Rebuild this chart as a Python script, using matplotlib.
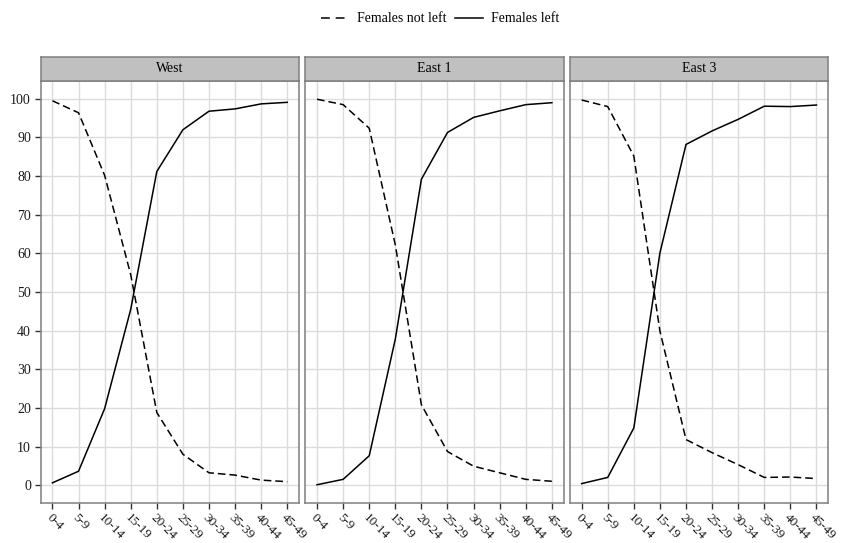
import matplotlib
matplotlib.use('Agg')
import matplotlib.pyplot as plt
from matplotlib.lines import Line2D

plt.rcParams['font.family'] = ['Liberation Serif', 'DejaVu Serif']

age_groups = ['0-4', '5-9', '10-14', '15-19', '20-24', '25-29', '30-34', '35-39', '40-44', '45-49']
regions = ['West', 'East 1', 'East 3']

# percent of females who have left the parental home, by age group
left_west = [0.6, 3.6, 19.8, 45.5, 81.2, 92.0, 96.8, 97.4, 98.7, 99.1]
left_east1 = [0.1, 1.5, 7.6, 37.8, 79.2, 91.3, 95.2, 96.9, 98.5, 99.0]
left_east3 = [0.4, 2.0, 14.8, 60.1, 88.2, 91.7, 94.7, 98.1, 98.0, 98.4]

not_left_west = [99.5, 96.4, 80.2, 54.5, 18.8, 8.0, 3.2, 2.6, 1.3, 0.9]
not_left_east1 = [99.9, 98.5, 92.4, 62.2, 20.8, 8.7, 4.9, 3.2, 1.5, 1.0]
not_left_east3 = [99.7, 98.0, 85.2, 39.9, 11.8, 8.4, 5.3, 2.0, 2.1, 1.7]

left_all = [left_west, left_east1, left_east3]
not_left_all = [not_left_west, not_left_east1, not_left_east3]

W, H = 846, 543
fig = plt.figure(figsize=(W / 100, H / 100), dpi=100)

x = list(range(len(age_groups)))
left0, pw, gap = 40.7, 258.3, 6.3
ptop, pbot = 80.7, 503.3
strip_h = 24.0
dash = (0, (5, 2.6))
fs = 10

for i, reg in enumerate(regions):
    lx = left0 + i * (pw + gap)
    ax = fig.add_axes([lx / W, 1 - pbot / H, pw / W, (pbot - ptop) / H])
    ax.plot(x, not_left_all[i], color='black', lw=1.1, linestyle=dash)
    ax.plot(x, left_all[i], color='black', lw=1.1)
    ax.set_xlim(-0.45, 9.45)
    ax.set_ylim(-4.7, 104.7)
    ax.set_yticks(range(0, 101, 10))
    ax.set_xticks(x)
    ax.set_xticklabels(age_groups, rotation=-45, ha='left', va='top',
                       rotation_mode='anchor', fontsize=9.5, color='#1a1a1a')
    ax.tick_params(direction='out', length=4, width=1.0, color='#333333', pad=3)
    ax.tick_params(axis='x', pad=2)
    if i == 0:
        ax.tick_params(axis='y', labelsize=fs, labelcolor='#1a1a1a')
    else:
        ax.tick_params(axis='y', labelleft=False, left=False)
    ax.grid(True, color='#dcdcdc', lw=1.0)
    ax.set_axisbelow(True)
    for s in ax.spines.values():
        s.set_color('#7f7f7f')
        s.set_linewidth(1.1)

    sax = fig.add_axes([lx / W, 1 - ptop / H, pw / W, strip_h / H])
    sax.set_facecolor('#c0c0c0')
    sax.set_xticks([])
    sax.set_yticks([])
    for s in sax.spines.values():
        s.set_color('#7f7f7f')
        s.set_linewidth(1.1)
    sax.text(0.5, 0.5, reg, ha='center', va='center', fontsize=fs,
             transform=sax.transAxes)

handles = [Line2D([], [], color='black', lw=1.1, linestyle=(0, (5.8, 3.8))),
           Line2D([], [], color='black', lw=1.1)]
fig.legend(handles, ['Females not left', 'Females left'], loc='center',
           bbox_to_anchor=(440 / W, 1 - 19 / H), ncol=2, frameon=False,
           fontsize=fs, handlelength=2.0, handletextpad=0.6, columnspacing=0.6)

fig.savefig('out.png', dpi=100)
